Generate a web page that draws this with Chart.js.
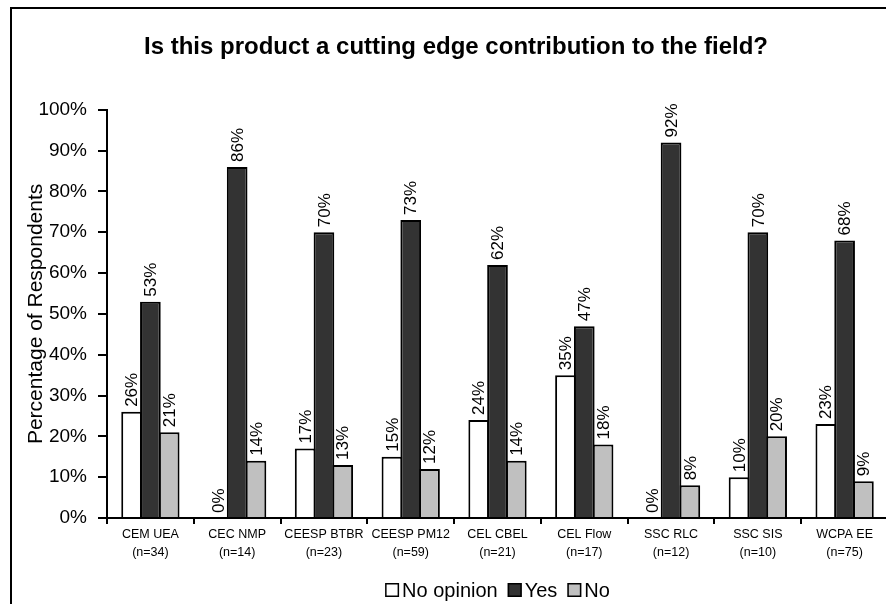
<!DOCTYPE html>
<html>
<head>
<meta charset="utf-8">
<title>Cutting edge contribution</title>
<script src="https://cdn.jsdelivr.net/npm/chart.js@4.4.1/dist/chart.umd.min.js"></script>
<style>
    html, body { margin: 0; padding: 0; background: #fff; overflow: hidden; }
    #frame {
        position: absolute; left: 10px; top: 7px; width: 1000px; height: 1000px;
        border-left: 2px solid #000; border-top: 2px solid #000;
    }
    #chart { position: absolute; left: 0; top: 0; }
</style>
</head>
<body>
<div id="frame"></div>
<canvas id="chart" width="912" height="604"></canvas>
<script>
// Data
const categories = [
    ["CEM UEA", "(n=34)"], ["CEC NMP", "(n=14)"], ["CEESP BTBR", "(n=23)"],
    ["CEESP PM12", "(n=59)"], ["CEL CBEL", "(n=21)"], ["CEL Flow", "(n=17)"],
    ["SSC RLC", "(n=12)"], ["SSC SIS", "(n=10)"], ["WCPA EE", "(n=75)"]
];
const noOpinion = [26, 0, 17, 15, 24, 35, 0, 10, 23];
const yes = [53, 86, 70, 73, 62, 47, 92, 70, 68];
const no = [21, 14, 13, 12, 14, 18, 8, 20, 9];
const seriesNames = ["No opinion", "Yes", "No"];
const seriesColors = ["#ffffff", "#333333", "#c0c0c0"];

const FONT = "'Liberation Sans', Arial, sans-serif";

// rotated value labels above each bar
const barLabels = {
    id: "barLabels",
    afterDatasetsDraw(chart) {
        const ctx = chart.ctx;
        ctx.save();
        ctx.fillStyle = "#000";
        ctx.font = "17px " + FONT;
        ctx.textAlign = "left";
        ctx.textBaseline = "middle";
        chart.data.datasets.forEach((ds, i) => {
            chart.getDatasetMeta(i).data.forEach((bar, j) => {
                ctx.save();
                ctx.translate(bar.x, bar.y - 5);
                ctx.rotate(-Math.PI / 2);
                ctx.fillText(ds.data[j] + "%", 0, 1);
                ctx.restore();
            });
        });
        ctx.restore();
    }
};

// legend with tight box/text spacing, centered under the plot
const boxLegend = {
    id: "boxLegend",
    afterDraw(chart) {
        const ctx = chart.ctx;
        const area = chart.chartArea;
        const box = 14, gapText = 3, gapItem = 10, y = 590;
        ctx.save();
        ctx.font = "20px " + FONT;
        const items = chart.data.datasets.map(ds => ({
            text: ds.label, color: ds.backgroundColor, w: ctx.measureText(ds.label).width
        }));
        let total = items.reduce((s, it) => s + box + gapText + it.w, 0) + gapItem * (items.length - 1);
        let x = (area.left + area.right) / 2 - total / 2;
        ctx.textBaseline = "middle";
        ctx.textAlign = "left";
        items.forEach(it => {
            ctx.fillStyle = it.color;
            ctx.fillRect(x, y - box / 2, box, box);
            ctx.strokeStyle = "#000";
            ctx.lineWidth = 1.5;
            ctx.strokeRect(x + 0.75, y - box / 2 + 0.75, box - 1.5, box - 1.5);
            ctx.fillStyle = "#000";
            ctx.fillText(it.text, x + box + gapText, y + 1);
            x += box + gapText + it.w + gapItem;
        });
        ctx.restore();
    }
};

const values = [noOpinion, yes, no];

new Chart(document.getElementById("chart"), {
    type: "bar",
    data: {
        labels: categories,
        datasets: values.map((v, i) => ({
            label: seriesNames[i],
            data: v,
            backgroundColor: seriesColors[i],
            borderColor: "#000",
            borderWidth: 2,
            categoryPercentage: 0.65,
            barPercentage: 1.1
        }))
    },
    options: {
        responsive: false,
        animation: false,
        devicePixelRatio: 1,
        layout: { padding: { left: 24, right: 24, top: 0, bottom: 42 } },
        plugins: {
            legend: { display: false },
            tooltip: { enabled: false },
            title: {
                display: true,
                text: "Is this product a cutting edge contribution to the field?",
                color: "#000",
                font: { family: FONT, size: 24, weight: "bold", lineHeight: 1.2 },
                padding: { top: 33, bottom: 48 }
            }
        },
        scales: {
            x: {
                grid: { display: true, drawOnChartArea: false, drawTicks: true, tickLength: 6, color: "#000", lineWidth: 2, offset: true },
                border: { display: true, color: "#000", width: 2 },
                ticks: {
                    color: "#000", padding: 2, maxRotation: 0, autoSkip: false,
                    font: { family: FONT, size: 12.5, lineHeight: 1.44 }
                },
                afterFit: scale => { scale.height = 44; }
            },
            y: {
                min: 0, max: 100,
                grid: { display: true, drawOnChartArea: false, drawTicks: true, tickLength: 9, color: "#000", lineWidth: 2 },
                border: { display: true, color: "#000", width: 2 },
                ticks: {
                    stepSize: 10, color: "#000", padding: 11,
                    font: { family: FONT, size: 19 },
                    callback: v => v + "%"
                },
                title: {
                    display: true,
                    text: "Percentage of Respondents",
                    color: "#000",
                    padding: 0,
                    font: { family: FONT, size: 21, lineHeight: 1.2 }
                },
                afterFit: scale => { scale.width = 83; }
            }
        }
    },
    plugins: [barLabels, boxLegend]
});
</script>
</body>
</html>
